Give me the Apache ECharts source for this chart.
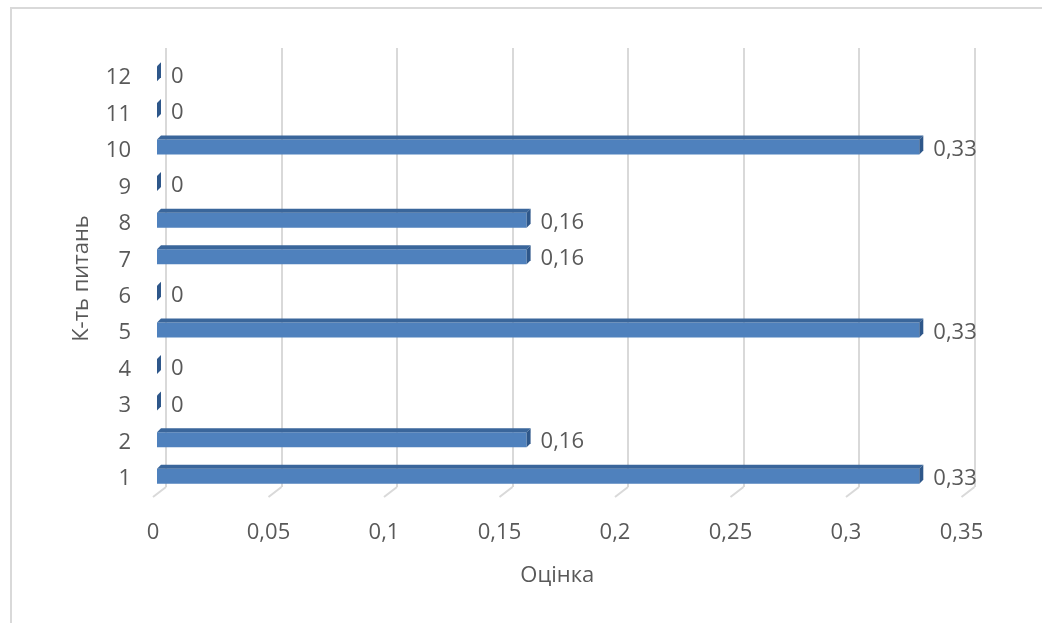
<!DOCTYPE html>
<html>
<head>
<meta charset="utf-8">
<script src="https://cdn.jsdelivr.net/npm/echarts@6/dist/echarts.min.js"></script>
<style>
  html, body { margin: 0; padding: 0; background: #fff; }
  #chart { width: 1042px; height: 623px; }
</style>
</head>
<body>
<div id="chart"></div>
<script>
// дані
const categories = ['1', '2', '3', '4', '5', '6', '7', '8', '9', '10', '11', '12']
const scores = [0.33, 0.16, 0, 0, 0.33, 0, 0.16, 0.16, 0, 0.33, 0, 0]
const ticks = [0, 0.05, 0.1, 0.15, 0.2, 0.25, 0.3, 0.35]

const fmt = v => String(v).replace('.', ',')
const textColor = '#595959'
const font = '"Open Sans", sans-serif'

const myChart = echarts.init(document.getElementById('chart'))

// 3D-брусок: передня грань, верх і торець
const renderBar = (params, api) => {
  const v = api.value(0)
  const i = api.value(1)
  const start = api.coord([0, i])
  const end = api.coord([v, i])
  const x0 = start[0]
  const x1 = end[0]
  const yc = end[1]
  const dx = 4, dy = 4
  const top = yc - 6, bottom = yc + 9
  return {
    type: 'group',
    children: [
      {
        type: 'rect',
        shape: { x: x0, y: top, width: x1 - x0, height: bottom - top },
        style: { fill: '#4F81BD' }
      },
      {
        type: 'polygon',
        shape: { points: [[x0, top], [x1, top], [x1 + dx, top - dy], [x0 + dx, top - dy]] },
        style: { fill: '#3A669B' }
      },
      {
        type: 'polygon',
        shape: { points: [[x1, top], [x1 + dx, top - dy], [x1 + dx, bottom - dy], [x1, bottom]] },
        style: { fill: '#2E578A' }
      },
      {
        type: 'text',
        style: {
          x: x1 + dx + 10, y: yc + 4,
          text: fmt(v),
          fill: textColor,
          font: '22px ' + font,
          verticalAlign: 'middle'
        }
      }
    ]
  }
}

// косі лінії "підлоги" під сіткою
const renderFoot = (params, api) => {
  const p = api.coord([api.value(0), 0])
  const cs = params.coordSys
  const yb = cs.y + cs.height
  return {
    type: 'line',
    shape: { x1: p[0], y1: yb, x2: p[0] - 13, y2: yb + 10 },
    style: { stroke: '#D9D9D9', lineWidth: 2 }
  }
}

const option = {
  animation: false,
  graphic: [{
    type: 'rect',
    shape: { x: 11, y: 8, width: 1100, height: 700 },
    style: { fill: 'none', stroke: '#D9D9D9', lineWidth: 2 },
    z: -10
  }],
  grid: [
    { left: 153, top: 60, width: 808.5, height: 437 },   // підписи
    { left: 166, top: 48, width: 808.5, height: 439 },   // сітка (задня стінка)
    { left: 157, top: 54, width: 808.5, height: 439 }    // бруски
  ],
  xAxis: [
    {
      gridIndex: 0, type: 'value', min: 0, max: 0.35, interval: 0.05,
      axisLine: { show: false }, axisTick: { show: false }, splitLine: { show: false },
      axisLabel: { color: textColor, fontSize: 22, fontFamily: font, margin: 25, formatter: fmt },
      name: 'Оцінка', nameLocation: 'middle', nameGap: 68,
      nameTextStyle: { color: textColor, fontSize: 22, fontFamily: font }
    },
    {
      gridIndex: 1, type: 'value', min: 0, max: 0.35, interval: 0.05,
      axisLine: { show: false }, axisTick: { show: false }, axisLabel: { show: false },
      splitLine: { show: true, lineStyle: { color: '#D9D9D9', width: 2 } }
    },
    {
      gridIndex: 2, type: 'value', min: 0, max: 0.35, interval: 0.05, show: false
    }
  ],
  yAxis: [
    {
      gridIndex: 0, type: 'category', data: categories,
      axisLine: { show: false }, axisTick: { show: false }, splitLine: { show: false },
      axisLabel: { color: textColor, fontSize: 22, fontFamily: font, margin: 22 },
      name: 'К-ть питань', nameLocation: 'middle', nameGap: 60, nameRotate: 90,
      nameTextStyle: { color: textColor, fontSize: 22, fontFamily: font }
    },
    {
      gridIndex: 1, type: 'category', data: categories, show: false
    },
    {
      gridIndex: 2, type: 'category', data: categories, show: false
    }
  ],
  series: [
    {
      type: 'custom',
      xAxisIndex: 1, yAxisIndex: 1,
      data: ticks.map(t => [t]),
      renderItem: renderFoot,
      clip: false,
      silent: true
    },
    {
      type: 'custom',
      xAxisIndex: 2, yAxisIndex: 2,
      data: scores.map((v, i) => [v, i]),
      encode: { x: 0, y: 1 },
      renderItem: renderBar,
      clip: false
    }
  ]
}

myChart.setOption(option)
</script>
</body>
</html>
